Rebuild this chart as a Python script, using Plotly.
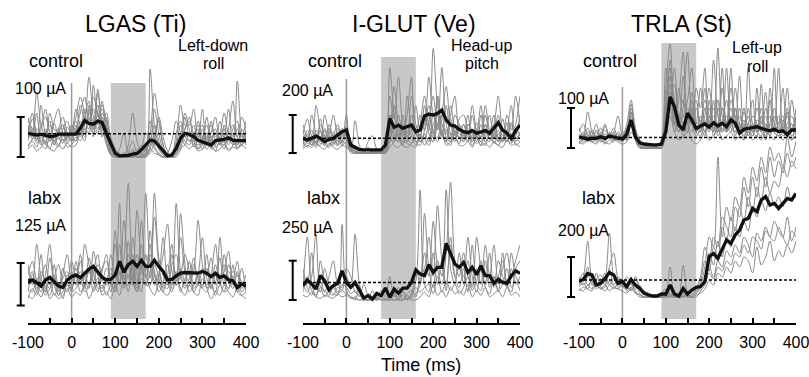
import plotly.graph_objects as go

W, H = 809, 377
FONT = "Liberation Sans, Arial, sans-serif"

# ---------------- data ----------------
time_ms = list(range(-100, 401, 10))          # sample times (ms)
x_ticks = [-100, 0, 100, 200, 300, 400]
x_minor = [-50, 50, 150, 250, 350]

titles = ["LGAS (Ti)", "I-GLUT (Ve)", "TRLA (St)"]
directions = [["Left-down", "roll"], ["Head-up", "pitch"], ["Left-up", "roll"]]
conditions = ["control", "labx"]
scale_uA = [[100, 125], [200, 250], [100, 200]]      # scale bar values
baseline_uA = [[58, 67], [77, 112], [26, 85]]         # dotted pre-stim levels
stim_window_ms = [[90, 170], [80, 160], [90, 170]]    # shaded window

# mean (black) traces, uA
mean_c1_ctrl = [59, 57, 55, 57, 55, 51, 52, 57, 57, 57, 57,
                57, 72, 91, 84, 82, 90, 86, 59,
                34, 9, 3, 3, 4, 7, 9, 18, 30,
                42, 40, 27, 13, 3, 5, 22, 47, 59,
                57, 51, 42, 38, 36, 30, 41, 42, 44, 48, 42, 41, 42, 41]
mean_c1_labx = [73, 75, 67, 57, 75, 83, 70, 57, 53, 75, 85,
                90, 82, 95, 107, 115, 100, 83, 75,
                77, 90, 130, 97, 120, 130, 115, 133, 115,
                115, 133, 115, 100, 75, 77, 87, 95, 97,
                97, 95, 95, 100, 95, 85, 95, 83, 87, 75, 73, 53, 63, 57]
mean_c2_ctrl = [77, 68, 77, 89, 77, 60, 72, 77, 95, 112, 121,
                42, 30, 19, 16, 16, 19, 16, 16,
                42, 182, 135, 147, 130, 139, 147, 112, 121,
                195, 205, 200, 209, 226, 174, 147, 142, 125,
                112, 107, 118, 104, 112, 118, 104, 130, 160, 121, 104, 77, 118, 147]
mean_c2_labx = [91, 127, 102, 70, 155, 123, 64, 91, 106, 186, 112,
                81, 112, 59, 13, 28, 6, 42, 28,
                76, 17, 70, 42, 76, 76, 112, 191, 165,
                155, 225, 176, 208, 208, 360, 292, 229, 208,
                239, 176, 208, 161, 218, 155, 155, 106, 133, 112, 106, 155, 186, 169]
mean_c3_ctrl = [28, 24, 22, 24, 24, 28, 24, 30, 28, 24, 22,
                35, 70, 28, 13, 10, 8, 8, 8,
                10, 41, 128, 103, 58, 45, 87, 70, 49,
                55, 60, 52, 63, 55, 62, 53, 70, 62,
                37, 47, 49, 52, 53, 49, 45, 43, 47, 41, 43, 33, 45, 45]
mean_c3_labx = [77, 88, 118, 110, 60, 68, 93, 122, 110, 68, 77,
                52, 88, 60, 43, 18, 10, 5, 5,
                15, 15, 60, 15, 5, 43, 15, 35, 48,
                52, 77, 202, 218, 193, 243, 285, 268, 310,
                335, 385, 393, 443, 427, 485, 502, 460, 468, 443, 468, 493, 485, 518]

# individual trials (gray), uA
gray_c1_ctrl = [
    [40, 95, 60, 30, 70, 45, 85, 50, 35, 60, 40, 70, 110, 150, 90, 120, 80, 140, 60,
     20, 5, 0, 10, 5, 15, 0, 5, 10, 60, 30, 5, 0, 10, 40, 90, 60, 40,
     30, 60, 20, 45, 80, 35, 15, 50, 70, 30, 55, 20, 40, 60],
    [70, 50, 110, 40, 55, 90, 30, 65, 80, 45, 70, 90, 60, 120, 100, 70, 160, 90, 110,
     40, 10, 5, 0, 0, 5, 0, 5, 20, 90, 50, 20, 5, 0, 10, 30, 80, 50,
     60, 30, 90, 50, 20, 40, 70, 30, 50, 120, 40, 30, 60, 45],
    [30, 40, 25, 60, 35, 20, 50, 30, 45, 25, 30, 50, 40, 80, 200, 100, 60, 90, 40,
     10, 0, 0, 5, 30, 110, 40, 10, 5, 220, 80, 30, 10, 5, 0, 20, 40, 70,
     100, 40, 20, 30, 60, 20, 30, 90, 40, 20, 30, 190, 60, 30],
    [100, 60, 160, 80, 50, 40, 90, 120, 60, 50, 80, 60, 130, 90, 70, 150, 110, 60, 50,
     30, 15, 10, 0, 5, 0, 10, 20, 60, 40, 120, 60, 20, 10, 5, 10, 30, 100,
     50, 80, 40, 120, 30, 60, 100, 40, 30, 70, 140, 50, 30, 70],
    [20, 30, 15, 25, 40, 20, 15, 30, 20, 35, 25, 30, 60, 40, 120, 50, 170, 80, 30,
     5, 0, 0, 0, 0, 5, 0, 0, 5, 20, 10, 5, 0, 0, 0, 10, 20, 30,
     20, 30, 15, 20, 40, 25, 15, 20, 30, 15, 25, 20, 30, 20],
    [60, 110, 50, 70, 120, 60, 40, 70, 100, 60, 40, 80, 50, 100, 140, 70, 90, 120, 70,
     15, 5, 20, 60, 10, 0, 5, 30, 15, 60, 160, 90, 30, 5, 0, 40, 130, 80,
     80, 120, 50, 70, 40, 90, 50, 60, 110, 60, 80, 50, 100, 70],
    [50, 70, 40, 130, 60, 80, 50, 45, 70, 90, 60, 120, 80, 70, 60, 180, 100, 130, 90,
     50, 20, 5, 0, 15, 40, 10, 0, 0, 10, 40, 100, 50, 15, 5, 60, 90, 50,
     40, 50, 70, 30, 50, 80, 40, 60, 50, 40, 70, 90, 40, 50],
    [80, 45, 70, 55, 30, 110, 70, 60, 50, 75, 55, 40, 90, 60, 110, 90, 130, 50, 100,
     10, 0, 0, 0, 5, 10, 20, 5, 0, 30, 80, 40, 10, 0, 0, 20, 50, 110,
     70, 40, 60, 80, 30, 40, 60, 40, 70, 50, 40, 70, 50, 90],
    [45, 60, 35, 50, 65, 40, 55, 70, 40, 50, 60, 70, 55, 100, 80, 60, 110, 70, 50,
     10, 0, 0, 0, 0, 0, 5, 10, 20, 30, 50, 20, 5, 0, 0, 10, 40, 60,
     40, 50, 30, 40, 60, 30, 40, 50, 35, 45, 30, 40, 55, 35],
    [25, 45, 55, 35, 20, 50, 40, 25, 60, 35, 45, 40, 70, 50, 130, 70, 60, 100, 40,
     5, 0, 0, 0, 10, 20, 0, 0, 10, 50, 20, 10, 0, 0, 0, 5, 60, 30,
     60, 25, 40, 20, 30, 50, 25, 35, 20, 60, 35, 25, 30, 40],
    [90, 70, 45, 80, 100, 60, 30, 60, 80, 40, 60, 100, 150, 110, 80, 90, 70, 110, 80,
     25, 10, 0, 0, 0, 0, 0, 0, 0, 20, 60, 90, 30, 5, 0, 0, 20, 70,
     90, 60, 80, 40, 100, 50, 60, 30, 80, 40, 60, 30, 70, 50],
]
gray_c1_labx = [
    [40, 90, 60, 150, 50, 30, 80, 120, 60, 40, 100, 60, 130, 80, 50, 160, 90, 40, 70,
     110, 50, 300, 80, 60, 200, 90, 40, 150, 80, 260, 120, 50, 90, 180, 60, 110, 70,
     130, 60, 90, 200, 80, 50, 120, 70, 100, 160, 60, 90, 50, 70],
    [120, 60, 180, 80, 40, 140, 60, 30, 90, 150, 70, 110, 60, 180, 120, 70, 40, 100, 150,
     60, 220, 90, 140, 360, 100, 50, 120, 80, 150, 90, 40, 70, 120, 60, 300, 100, 50,
     80, 140, 60, 100, 50, 90, 180, 70, 40, 120, 80, 60, 110, 40],
    [30, 20, 40, 25, 60, 20, 35, 20, 30, 50, 25, 40, 30, 60, 20, 50, 80, 30, 40,
     20, 60, 30, 90, 40, 120, 60, 180, 90, 50, 30, 80, 200, 70, 40, 90, 50, 30,
     60, 40, 30, 80, 50, 20, 40, 30, 60, 40, 25, 50, 30, 20],
    [70, 100, 50, 80, 120, 60, 90, 40, 110, 70, 130, 80, 150, 60, 100, 70, 120, 90, 60,
     150, 80, 120, 60, 190, 70, 280, 120, 60, 100, 330, 140, 90, 60, 150, 80, 200, 100,
     70, 100, 250, 120, 60, 90, 70, 140, 60, 100, 80, 130, 60, 90],
    [50, 40, 80, 60, 30, 50, 70, 30, 40, 60, 50, 90, 40, 60, 110, 40, 70, 50, 80,
     40, 100, 60, 250, 120, 70, 40, 80, 60, 220, 100, 60, 40, 80, 50, 70, 270, 120,
     40, 60, 90, 50, 150, 60, 40, 200, 80, 50, 70, 40, 60, 50],
    [90, 130, 70, 40, 90, 180, 80, 60, 50, 90, 60, 70, 100, 50, 140, 90, 60, 110, 130,
     70, 40, 180, 50, 90, 60, 150, 100, 330, 120, 60, 90, 150, 240, 100, 60, 90, 150,
     100, 50, 70, 110, 90, 140, 60, 80, 120, 70, 100, 90, 70, 60],
    [60, 80, 40, 100, 70, 50, 120, 60, 80, 100, 40, 130, 70, 90, 60, 100, 150, 70, 110,
     90, 180, 70, 120, 80, 150, 60, 250, 100, 180, 70, 100, 60, 50, 120, 150, 80, 60,
     60, 120, 80, 60, 110, 50, 90, 60, 150, 80, 50, 100, 40, 60],
    [20, 50, 30, 60, 40, 80, 30, 50, 20, 70, 40, 50, 80, 40, 60, 120, 50, 60, 30,
     60, 40, 100, 60, 150, 80, 40, 100, 60, 60, 120, 80, 40, 30, 60, 100, 40, 80,
     90, 40, 60, 50, 40, 70, 30, 60, 40, 50, 120, 40, 30, 40],
]
gray_c2_ctrl = [
    [40, 120, 60, 30, 180, 70, 40, 90, 150, 60, 200, 20, 10, 0, 5, 0, 0, 10, 0,
     30, 450, 200, 100, 60, 120, 90, 40, 150, 300, 150, 80, 200, 120, 60, 180, 100, 50,
     120, 60, 200, 90, 40, 150, 70, 110, 60, 180, 80, 50, 130, 90],
    [90, 60, 200, 100, 50, 80, 130, 60, 40, 100, 70, 30, 20, 10, 0, 0, 5, 0, 0,
     10, 100, 350, 150, 80, 60, 200, 100, 60, 120, 400, 200, 150, 90, 250, 100, 70, 130,
     80, 150, 100, 60, 200, 80, 120, 50, 100, 70, 160, 90, 60, 110],
    [20, 40, 30, 60, 30, 20, 50, 30, 20, 40, 30, 10, 170, 40, 0, 0, 0, 0, 10,
     0, 30, 60, 100, 40, 30, 50, 80, 60, 70, 40, 100, 60, 120, 40, 60, 80, 40,
     40, 60, 30, 80, 40, 50, 30, 60, 40, 30, 70, 40, 50, 30],
    [150, 80, 60, 250, 120, 60, 100, 200, 90, 60, 120, 40, 10, 5, 0, 60, 90, 20, 0,
     40, 200, 120, 80, 150, 100, 300, 150, 90, 200, 120, 550, 250, 150, 100, 200, 300, 120,
     150, 100, 250, 120, 80, 200, 100, 150, 300, 120, 80, 160, 100, 200],
    [60, 30, 80, 40, 120, 50, 30, 60, 80, 40, 60, 0, 0, 0, 0, 0, 0, 0, 0,
     0, 80, 40, 30, 60, 50, 40, 30, 100, 40, 80, 60, 300, 100, 60, 40, 120, 80,
     60, 100, 40, 80, 60, 40, 100, 60, 40, 80, 60, 100, 40, 60],
    [100, 180, 90, 60, 80, 130, 70, 110, 60, 90, 140, 60, 20, 0, 0, 0, 0, 0, 0,
     20, 300, 180, 400, 150, 90, 120, 250, 120, 150, 250, 120, 80, 200, 350, 150, 90, 180,
     200, 120, 80, 160, 100, 250, 120, 80, 150, 90, 200, 120, 300, 150],
    [70, 100, 40, 90, 60, 200, 100, 50, 70, 130, 90, 30, 0, 0, 0, 0, 0, 0, 0,
     0, 150, 100, 60, 200, 80, 50, 120, 60, 100, 60, 150, 200, 80, 120, 60, 150, 100,
     100, 60, 120, 80, 150, 60, 100, 200, 80, 60, 120, 250, 80, 100],
    [50, 70, 120, 50, 80, 40, 90, 60, 110, 50, 80, 20, 40, 10, 0, 30, 0, 0, 0,
     10, 60, 250, 120, 90, 200, 400, 100, 80, 80, 160, 300, 120, 450, 150, 80, 200, 150,
     90, 200, 60, 100, 250, 80, 60, 100, 200, 60, 100, 80, 150, 300],
    [60, 90, 40, 120, 70, 40, 150, 80, 50, 110, 90, 20, 0, 0, 0, 0, 0, 0, 0,
     0, 200, 80, 60, 120, 60, 90, 60, 80, 250, 100, 60, 150, 200, 80, 60, 100, 150,
     60, 120, 80, 50, 90, 150, 70, 100, 60, 80, 120, 60, 90, 150],
    [30, 60, 90, 50, 40, 120, 60, 90, 40, 60, 40, 10, 0, 0, 0, 0, 0, 0, 0,
     0, 60, 150, 80, 40, 300, 120, 60, 40, 100, 60, 200, 150, 100, 60, 250, 120, 80,
     150, 80, 60, 120, 80, 60, 100, 150, 60, 120, 60, 100, 80, 60],
    [120, 50, 70, 60, 150, 90, 60, 40, 130, 80, 100, 40, 10, 0, 0, 0, 10, 0, 0,
     0, 120, 60, 200, 100, 80, 150, 100, 200, 120, 200, 100, 300, 150, 120, 100, 60, 120,
     100, 150, 120, 80, 60, 100, 200, 80, 120, 60, 100, 150, 60, 100],
]
gray_c2_labx = [
    [50, 400, 100, 30, 80, 20, 60, 40, 30, 480, 60, 20, 10, 0, 20, 0, 10, 0, 30,
     0, 20, 0, 10, 30, 0, 50, 120, 700, 100, 50, 300, 100, 250, 60, 400, 150, 80,
     200, 50, 350, 100, 60, 250, 80, 150, 50, 300, 100, 50, 200, 250],
    [100, 50, 150, 420, 80, 60, 30, 100, 50, 60, 150, 80, 420, 100, 20, 0, 10, 20, 0,
     10, 0, 30, 0, 0, 20, 10, 40, 100, 550, 200, 80, 250, 150, 700, 200, 100, 300,
     100, 400, 150, 50, 200, 100, 300, 80, 150, 250, 80, 200, 100, 150],
    [30, 20, 50, 20, 10, 30, 20, 10, 40, 20, 30, 10, 20, 0, 0, 0, 0, 10, 0,
     0, 0, 0, 0, 0, 10, 0, 0, 20, 50, 20, 100, 30, 60, 20, 80, 40, 60,
     30, 100, 20, 60, 30, 80, 20, 40, 60, 20, 80, 30, 50, 20],
    [200, 80, 30, 100, 50, 200, 100, 80, 40, 100, 80, 40, 60, 20, 100, 30, 0, 20, 60,
     30, 150, 20, 80, 0, 40, 60, 20, 150, 200, 400, 150, 600, 250, 100, 350, 150, 200,
     150, 250, 80, 200, 100, 350, 150, 100, 250, 150, 80, 300, 150, 100],
    [80, 150, 60, 20, 250, 100, 50, 30, 80, 60, 40, 20, 0, 80, 10, 0, 60, 0, 20,
     80, 10, 50, 0, 60, 0, 30, 80, 50, 80, 100, 40, 150, 50, 120, 60, 100, 40,
     80, 150, 60, 120, 250, 80, 40, 150, 60, 100, 200, 80, 120, 60],
    [150, 100, 300, 80, 120, 50, 150, 250, 100, 80, 200, 150, 50, 30, 0, 40, 20, 0, 40,
     20, 0, 40, 20, 50, 30, 20, 200, 100, 300, 150, 500, 200, 100, 300, 750, 250, 150,
     300, 150, 100, 400, 200, 100, 150, 350, 100, 200, 300, 150, 250, 350],
]
gray_c3_ctrl = [
    [20, 40, 15, 30, 60, 20, 15, 35, 25, 20, 15, 40, 110, 30, 5, 0, 5, 10, 0,
     10, 150, 260, 80, 40, 180, 60, 100, 40, 80, 40, 120, 30, 60, 200, 40, 80, 30,
     60, 20, 100, 40, 30, 80, 20, 60, 40, 30, 70, 40, 20, 60],
    [30, 20, 50, 25, 15, 40, 20, 30, 50, 25, 30, 20, 90, 40, 10, 0, 0, 5, 10,
     5, 60, 180, 120, 50, 100, 240, 80, 50, 40, 100, 60, 220, 80, 40, 60, 150, 70,
     40, 90, 50, 30, 150, 40, 60, 30, 80, 50, 40, 90, 30, 50],
    [15, 10, 20, 15, 10, 25, 15, 10, 20, 15, 10, 15, 40, 20, 0, 0, 0, 0, 0,
     0, 30, 80, 40, 20, 30, 50, 20, 10, 20, 40, 20, 30, 50, 20, 30, 40, 20,
     30, 20, 40, 20, 30, 20, 40, 30, 20, 40, 20, 30, 20, 30],
    [50, 30, 90, 40, 20, 30, 60, 25, 40, 80, 30, 60, 120, 50, 20, 10, 5, 0, 5,
     20, 200, 100, 60, 150, 80, 120, 200, 60, 150, 60, 100, 40, 250, 80, 50, 100, 60,
     180, 50, 80, 40, 100, 60, 140, 40, 60, 200, 50, 80, 40, 100],
    [25, 35, 20, 40, 30, 50, 25, 40, 30, 35, 20, 30, 80, 30, 10, 5, 0, 0, 5,
     10, 100, 140, 60, 40, 80, 60, 40, 100, 60, 30, 80, 50, 40, 60, 120, 50, 40,
     50, 40, 60, 120, 40, 30, 50, 80, 40, 60, 30, 40, 120, 40],
    [40, 60, 30, 20, 45, 25, 55, 30, 20, 40, 25, 50, 70, 20, 0, 0, 0, 0, 0,
     0, 80, 220, 100, 50, 60, 100, 60, 150, 100, 200, 60, 40, 100, 60, 200, 60, 100,
     40, 100, 30, 60, 40, 160, 50, 40, 100, 60, 150, 40, 60, 30],
    [10, 20, 30, 15, 25, 20, 10, 20, 15, 30, 20, 25, 60, 20, 5, 0, 0, 5, 0,
     0, 40, 160, 40, 80, 30, 40, 120, 40, 30, 60, 40, 120, 30, 50, 40, 60, 150,
     60, 30, 50, 30, 60, 40, 30, 120, 40, 30, 60, 40, 50, 60],
    [35, 25, 40, 30, 20, 35, 45, 25, 35, 20, 40, 35, 100, 40, 10, 5, 0, 0, 0,
     0, 120, 200, 60, 120, 240, 80, 60, 30, 50, 120, 80, 60, 40, 100, 60, 200, 50,
     80, 40, 200, 60, 40, 100, 40, 60, 200, 40, 60, 150, 40, 80],
    [20, 30, 25, 15, 30, 20, 35, 25, 20, 30, 25, 20, 60, 25, 5, 0, 0, 0, 0,
     0, 60, 120, 160, 60, 40, 60, 140, 60, 70, 40, 60, 100, 40, 150, 60, 40, 100,
     50, 60, 40, 80, 60, 40, 100, 50, 40, 60, 80, 50, 60, 40],
    [30, 15, 25, 45, 25, 30, 20, 35, 25, 20, 30, 30, 90, 30, 5, 0, 5, 0, 0,
     5, 90, 180, 90, 80, 60, 40, 80, 120, 40, 80, 150, 60, 120, 40, 80, 60, 40,
     100, 40, 60, 40, 70, 50, 40, 150, 60, 40, 50, 60, 80, 50],
    [15, 25, 35, 20, 40, 15, 25, 30, 40, 20, 30, 25, 70, 20, 0, 0, 0, 0, 0,
     0, 50, 100, 200, 80, 120, 60, 100, 40, 60, 150, 50, 80, 60, 100, 40, 120, 80,
     40, 70, 30, 50, 40, 60, 80, 40, 50, 80, 40, 100, 40, 70],
]
gray_c3_labx = [
    [60, 100, 280, 80, 40, 70, 120, 60, 90, 50, 70, 40, 80, 30, 10, 0, 0, 5, 0,
     10, 20, 150, 10, 0, 20, 0, 10, 30, 60, 150, 300, 250, 700, 300, 450, 380, 500,
     450, 600, 520, 650, 580, 700, 620, 750, 680, 720, 650, 800, 700, 780],
    [80, 60, 100, 120, 70, 60, 90, 320, 100, 60, 80, 60, 40, 100, 50, 20, 10, 0, 5,
     0, 10, 20, 0, 10, 160, 20, 0, 20, 40, 100, 220, 160, 280, 200, 300, 250, 350,
     300, 380, 330, 450, 400, 480, 430, 520, 460, 500, 450, 550, 480, 520],
    [50, 70, 40, 90, 60, 40, 50, 80, 50, 40, 60, 30, 50, 20, 0, 0, 0, 0, 0,
     0, 0, 10, 0, 0, 10, 0, 0, 10, 20, 40, 80, 60, 120, 100, 150, 120, 180,
     150, 200, 180, 120, 250, 160, 200, 280, 180, 230, 200, 260, 220, 280],
    [100, 80, 150, 60, 90, 110, 70, 140, 60, 100, 80, 80, 60, 100, 40, 30, 20, 10, 0,
     20, 40, 10, 0, 20, 0, 10, 30, 50, 100, 250, 180, 300, 250, 400, 350, 300, 450,
     400, 550, 450, 600, 500, 650, 550, 700, 600, 680, 620, 720, 650, 700],
    [40, 30, 60, 40, 120, 50, 30, 60, 40, 70, 50, 50, 30, 60, 20, 0, 0, 10, 0,
     0, 10, 0, 20, 0, 0, 10, 0, 20, 50, 80, 150, 100, 180, 150, 230, 200, 260,
     220, 300, 260, 200, 320, 280, 350, 300, 380, 330, 300, 400, 280, 350],
    [70, 120, 60, 80, 50, 90, 60, 150, 220, 90, 60, 100, 70, 40, 60, 20, 10, 0, 10,
     10, 0, 30, 0, 10, 20, 0, 10, 40, 80, 180, 130, 250, 200, 350, 280, 400, 330,
     450, 380, 500, 420, 550, 480, 600, 520, 580, 550, 650, 600, 680, 640],
    [30, 50, 40, 30, 70, 40, 60, 30, 50, 40, 30, 20, 40, 20, 10, 0, 0, 0, 0,
     0, 0, 0, 0, 0, 0, 10, 0, 0, 30, 60, 120, 90, 150, 130, 180, 160, 220,
     200, 260, 220, 300, 280, 240, 330, 300, 280, 350, 300, 260, 330, 300],
]

means = [[mean_c1_ctrl, mean_c1_labx], [mean_c2_ctrl, mean_c2_labx], [mean_c3_ctrl, mean_c3_labx]]
grays = [[gray_c1_ctrl, gray_c1_labx], [gray_c2_ctrl, gray_c2_labx], [gray_c3_ctrl, gray_c3_labx]]

for c in range(3):
    for r in range(2):
        assert len(means[c][r]) == len(time_ms), (c, r, len(means[c][r]))
        for i, g in enumerate(grays[c][r]):
            assert len(g) == len(time_ms), (c, r, i, len(g))

# ---------------- layout geometry (pixels) ----------------
col_px = [(28, 246), (303, 520), (579, 796)]
axis_px = 324
floor_px = [[157, 305.5], [153, 300], [148, 297]]
bar_len_px = [[40, 42.5], [38, 39.3], [40, 40]]
bar_x_px = [20.7, 292.7, 571]
shade_top_px = [83, 57, 43]
zero_top_px = [83, 79, 87]
shade_bottom_px = 319
title_px = [(135.5, 24), (414, 24), (681, 24)]
cond_px = [[(55.5, 61), (44, 198)], [(334.5, 61), (323, 198)], [(610, 61), (598, 198)]]
ua_px = [[(40.5, 88), (40.5, 225)], [(307.5, 90), (307.5, 227)], [(583, 98), (583, 230)]]
dir_px = [(213, 46, 64), (482, 46, 63), (757, 48, 66)]


def px(x):
    return x / W


def py(y):
    return 1 - y / H


GRAY = "rgb(138,138,138)"
fig = go.Figure()
layout = dict(
    width=W, height=H, margin=dict(l=0, r=0, t=0, b=0, autoexpand=False),
    paper_bgcolor="white", plot_bgcolor="rgba(0,0,0,0)",
    showlegend=False, font=dict(family=FONT, color="black"),
)
shapes, annotations = [], []


def label(text, x, y, size):
    annotations.append(dict(text=text, x=px(x), y=py(y), xref="paper", yref="paper",
                            showarrow=False, xanchor="center", yanchor="middle",
                            font=dict(size=size), borderpad=0))


for c in range(3):
    xa = "x" if c == 0 else f"x{c + 1}"
    layout["xaxis" if c == 0 else f"xaxis{c + 1}"] = dict(
        domain=[px(col_px[c][0]), px(col_px[c][1])], range=[-100, 400],
        anchor="free", position=py(axis_px), automargin=False,
        showline=True, linecolor="black", linewidth=2,
        ticks="inside", ticklen=5, tickwidth=1.5, tickcolor="black",
        tickvals=x_ticks, ticktext=[str(v) for v in x_ticks],
        ticklabeloverflow="allow", ticklabelstandoff=4,
        minor=dict(tickvals=x_minor, ticks="inside", ticklen=5, tickwidth=1.5, tickcolor="black"),
        showgrid=False, zeroline=False, fixedrange=True,
        tickfont=dict(size=16, family=FONT, color="black"),
    )
    s0, s1 = stim_window_ms[c]
    shapes.append(dict(type="rect", xref=xa, yref="paper", x0=s0, x1=s1,
                       y0=py(shade_bottom_px), y1=py(shade_top_px[c]),
                       fillcolor="#c8c8c8", line=dict(width=0), layer="below"))
    shapes.append(dict(type="line", xref=xa, yref="paper", x0=0, x1=0,
                       y0=py(axis_px), y1=py(zero_top_px[c]),
                       line=dict(color="#9a9a9a", width=1.5), layer="below"))
    label(titles[c], title_px[c][0], title_px[c][1], 23)
    label(directions[c][0], dir_px[c][0], dir_px[c][1], 16)
    label(directions[c][1], dir_px[c][0], dir_px[c][2], 16)
    for r in range(2):
        idx = 2 * c + r + 1
        ya = "y" if idx == 1 else f"y{idx}"
        k = bar_len_px[c][r] / scale_uA[c][r]
        pf = floor_px[c][r]
        layout["yaxis" if idx == 1 else f"yaxis{idx}"] = dict(
            domain=[0, 1], range=[(pf - H) / k, pf / k], anchor=xa,
            visible=False, fixedrange=True, automargin=False)
        for g in grays[c][r]:
            fig.add_trace(go.Scatter(x=time_ms, y=g, xaxis=xa, yaxis=ya, mode="lines",
                                     line=dict(color=GRAY, width=1, shape="spline", smoothing=0.9),
                                     hoverinfo="skip"))
        b = baseline_uA[c][r]
        fig.add_trace(go.Scatter(x=[time_ms[0], time_ms[-1]], y=[b, b], xaxis=xa, yaxis=ya,
                                 mode="lines", line=dict(color="black", width=1.5, dash="3px,2px"),
                                 hoverinfo="skip"))
        fig.add_trace(go.Scatter(x=time_ms, y=means[c][r], xaxis=xa, yaxis=ya, mode="lines",
                                 line=dict(color="#111111", width=3.3)))
        # scale bar
        bx = px(bar_x_px[c])
        cap = 4 / W
        sv = scale_uA[c][r]
        for (x0, x1, y0, y1) in [(bx, bx, 0, sv), (bx - cap, bx + cap, 0, 0), (bx - cap, bx + cap, sv, sv)]:
            shapes.append(dict(type="line", xref="paper", yref=ya, x0=x0, x1=x1, y0=y0, y1=y1,
                               line=dict(color="black", width=2)))
        label(conditions[r], cond_px[c][r][0], cond_px[c][r][1], 18)
        label(f"{scale_uA[c][r]} µA", ua_px[c][r][0], ua_px[c][r][1], 16)

label("Time (ms)", 421, 365, 18)

layout["shapes"] = shapes
layout["annotations"] = annotations
fig.update_layout(**layout)
fig.write_html("out.html")
